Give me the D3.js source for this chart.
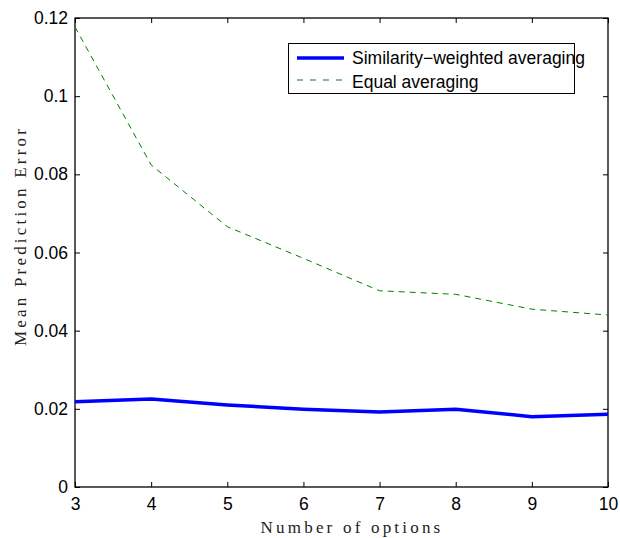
<!DOCTYPE html>
<html>
<head>
<meta charset="utf-8">
<script src="https://cdn.jsdelivr.net/npm/d3@7"></script>
<style>
  html, body { margin: 0; padding: 0; background: #fff; }
  svg { display: block; }
  .tick text { font-family: "Liberation Sans", Arial, Helvetica, sans-serif; font-size: 17.5px; fill: #000; }
  .axis-title { font-family: "Liberation Serif", "DejaVu Serif", serif; font-size: 17px; letter-spacing: 3.2px; fill: #222; }
  .legend text { font-family: "Liberation Sans", Arial, Helvetica, sans-serif; font-size: 17.5px; fill: #000; }
</style>
</head>
<body>
<svg id="chart" width="620" height="538"></svg>
<script>
// Number of options on the x axis
const options = [3, 4, 5, 6, 7, 8, 9, 10];
// Mean prediction error per number of options
const similarityWeighted = [0.0218, 0.0225, 0.0210, 0.0199, 0.0192, 0.0199, 0.0180, 0.0186];
const equalAveraging = [0.1177, 0.0824, 0.0666, 0.0585, 0.0502, 0.0493, 0.0455, 0.0440];
// Axis ticks
const xTicks = [3, 4, 5, 6, 7, 8, 9, 10];
const yTicks = [0, 0.02, 0.04, 0.06, 0.08, 0.1, 0.12];
const yTickLabels = ["0", "0.02", "0.04", "0.06", "0.08", "0.1", "0.12"];
const seriesNames = ["Similarity\u2212weighted averaging", "Equal averaging"];

const svg = d3.select("#chart");
const plotLeft = 75, plotRight = 608, plotTop = 18, plotBottom = 487;

const x = d3.scaleLinear().domain([3, 10]).range([plotLeft, plotRight]);
const y = d3.scaleLinear().domain([0, 0.12]).range([plotBottom, plotTop]);

// Inward ticks on all four sides
const tickLen = 5;
svg.append("g").attr("transform", `translate(0,${plotBottom})`)
  .call(d3.axisBottom(x).tickValues(xTicks).tickSize(-tickLen).tickPadding(11).tickFormat(d3.format("d")))
  .call(g => g.select(".domain").remove());
svg.append("g").attr("transform", `translate(0,${plotTop})`)
  .call(d3.axisTop(x).tickValues(xTicks).tickSize(-tickLen).tickFormat(""))
  .call(g => g.select(".domain").remove());
svg.append("g").attr("transform", `translate(${plotLeft},0)`)
  .call(d3.axisLeft(y).tickValues(yTicks).tickSize(-tickLen).tickPadding(7)
    .tickFormat((d, i) => yTickLabels[i]))
  .call(g => g.select(".domain").remove());
svg.append("g").attr("transform", `translate(${plotRight},0)`)
  .call(d3.axisRight(y).tickValues(yTicks).tickSize(-tickLen).tickFormat(""))
  .call(g => g.select(".domain").remove());
svg.selectAll(".tick line").attr("stroke", "#000").attr("stroke-width", 1);

// Plot frame
svg.append("rect")
  .attr("x", plotLeft).attr("y", plotTop)
  .attr("width", plotRight - plotLeft).attr("height", plotBottom - plotTop)
  .attr("fill", "none").attr("stroke", "#000").attr("stroke-width", 1.3);

const line = d3.line().x((d, i) => x(options[i])).y(d => y(d));

svg.append("path")
  .datum(equalAveraging)
  .attr("d", line)
  .attr("fill", "none")
  .attr("stroke", "#008000")
  .attr("stroke-width", 1)
  .attr("stroke-dasharray", "6,5");

svg.append("path")
  .datum(similarityWeighted)
  .attr("d", line)
  .attr("fill", "none")
  .attr("stroke", "#0000ff")
  .attr("stroke-width", 3.5)
  .attr("stroke-linejoin", "round");

// Axis titles
svg.append("text")
  .attr("class", "axis-title")
  .attr("x", 352).attr("y", 533)
  .attr("text-anchor", "middle")
  .text("Number of options");
svg.append("text")
  .attr("class", "axis-title")
  .attr("transform", "translate(26,236) rotate(-90)")
  .attr("text-anchor", "middle")
  .text("Mean Prediction Error");

// Legend
const legend = svg.append("g").attr("class", "legend");
legend.append("rect")
  .attr("x", 288.5).attr("y", 43.5)
  .attr("width", 286).attr("height", 50)
  .attr("fill", "#fff").attr("stroke", "#000").attr("stroke-width", 1);
legend.append("line")
  .attr("x1", 297).attr("x2", 344).attr("y1", 58).attr("y2", 58)
  .attr("stroke", "#0000ff").attr("stroke-width", 3.5);
legend.append("line")
  .attr("x1", 297).attr("x2", 344).attr("y1", 80).attr("y2", 80)
  .attr("stroke", "#008000").attr("stroke-width", 1).attr("stroke-dasharray", "6,7");
legend.append("text").attr("x", 352).attr("y", 64).text(seriesNames[0]);
legend.append("text").attr("x", 352).attr("y", 87.5).text(seriesNames[1]);
</script>
</body>
</html>
